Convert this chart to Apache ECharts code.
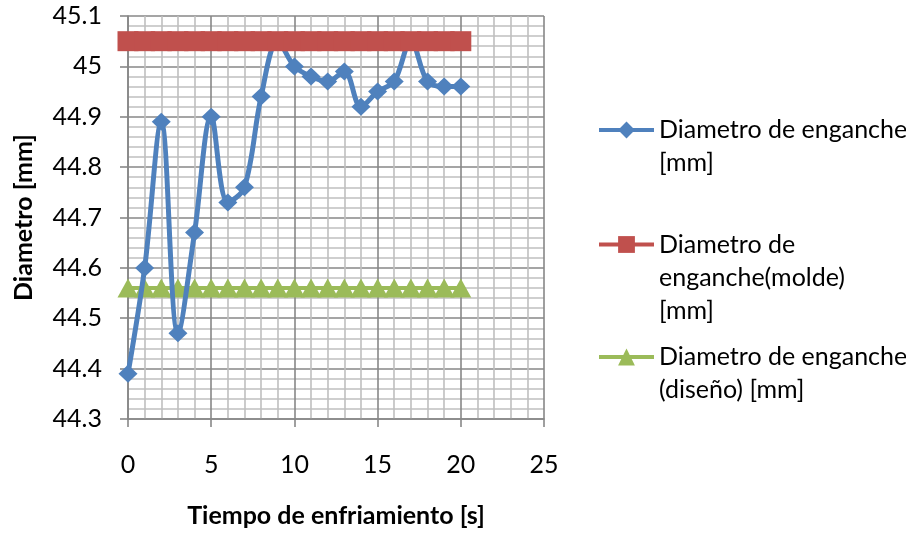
<!DOCTYPE html>
<html>
<head>
<meta charset="utf-8">
<script src="https://cdn.jsdelivr.net/npm/echarts@6/dist/echarts.min.js"></script>
<style>
  html, body { margin: 0; padding: 0; background: #ffffff; }
  #chart { width: 906px; height: 533px; }
</style>
</head>
<body>
<div id="chart"></div>
<script>
// Tiempo de enfriamiento [s]
const tiempo = [0, 1, 2, 3, 4, 5, 6, 7, 8, 9, 10, 11, 12, 13, 14, 15, 16, 17, 18, 19, 20];
// Diametro de enganche medido [mm]
const diametroEnganche = [44.39, 44.60, 44.89, 44.47, 44.67, 44.90, 44.73, 44.76, 44.94, 45.05, 45.00,
                          44.98, 44.97, 44.99, 44.92, 44.95, 44.97, 45.05, 44.97, 44.96, 44.96];
// Diametro de enganche del molde [mm]
const diametroMolde = [45.05, 45.05, 45.05, 45.05, 45.05, 45.05, 45.05, 45.05, 45.05, 45.05, 45.05,
                       45.05, 45.05, 45.05, 45.05, 45.05, 45.05, 45.05, 45.05, 45.05, 45.05];
// Diametro de enganche de diseño [mm]
const diametroDiseno = [44.56, 44.56, 44.56, 44.56, 44.56, 44.56, 44.56, 44.56, 44.56, 44.56, 44.56,
                        44.56, 44.56, 44.56, 44.56, 44.56, 44.56, 44.56, 44.56, 44.56, 44.56];

const serieNombres = ['Diametro de enganche [mm]', 'Diametro de enganche(molde) [mm]', 'Diametro de enganche (diseño) [mm]'];
const leyendaLineas = [
  ['Diametro de enganche', '[mm]'],
  ['Diametro de', 'enganche(molde)', '[mm]'],
  ['Diametro de enganche', '(diseño) [mm]']
];

const FONT = 'Lato';
const FS = 25;
const LH = 33;
const MAJOR = '#878787';
const MINOR = '#bfbfbf';

const pares = ys => tiempo.map((t, i) => [t, ys[i]]);

// The legend text block is centred on its icon; leading blank lines
// keep the icon level with the first line of a wrapped label.
function leyenda(idx, top) {
  const lineas = leyendaLineas[idx];
  const texto = '\n'.repeat(lineas.length - 1) + lineas.join('\n');
  return {
    show: true,
    orient: 'vertical',
    left: 597,
    top: top,
    padding: 0,
    itemWidth: 55,
    itemHeight: 21,
    itemGap: 0,
    selectedMode: false,
    data: [serieNombres[idx]],
    formatter: () => texto,
    lineStyle: { width: 4 },
    textStyle: {
      fontFamily: FONT,
      fontSize: FS,
      lineHeight: LH,
      color: '#000000'
    }
  };
}

const chart = echarts.init(document.getElementById('chart'), null, { renderer: 'canvas' });

chart.setOption({
  animation: false,
  backgroundColor: '#ffffff',
  grid: { left: 128, top: 16, width: 416, height: 404, containLabel: false },
  legend: [
    leyenda(0, 80.5),
    leyenda(1, 162),
    leyenda(2, 307.5)
  ],
  xAxis: {
    type: 'value',
    min: 0,
    max: 25,
    interval: 5,
    name: 'Tiempo de enfriamiento [s]',
    nameLocation: 'middle',
    nameGap: 84,
    nameTextStyle: { fontFamily: FONT, fontSize: FS, fontWeight: 'bold', color: '#000000' },
    axisLine: { show: true, lineStyle: { color: MAJOR, width: 1.6 } },
    axisTick: { show: true, length: 8, lineStyle: { color: MAJOR, width: 1.6 } },
    axisLabel: { fontFamily: FONT, fontSize: FS, color: '#000000', margin: 33 },
    splitLine: { show: true, lineStyle: { color: MAJOR, width: 1.6 } },
    minorTick: { show: false, splitNumber: 5 },
    minorSplitLine: { show: true, lineStyle: { color: MINOR, width: 1.6 } }
  },
  yAxis: {
    type: 'value',
    min: 44.3,
    max: 45.1,
    interval: 0.1,
    name: 'Diametro [mm]',
    nameLocation: 'middle',
    nameGap: 92,
    nameTextStyle: { fontFamily: FONT, fontSize: FS, fontWeight: 'bold', color: '#000000' },
    axisLine: { show: true, lineStyle: { color: MAJOR, width: 1.6 } },
    axisTick: { show: true, length: 8, lineStyle: { color: MAJOR, width: 1.6 } },
    axisLabel: { fontFamily: FONT, fontSize: FS, color: '#000000', margin: 26 },
    splitLine: { show: true, lineStyle: { color: MAJOR, width: 1.6 } },
    minorTick: { show: false, splitNumber: 5 },
    minorSplitLine: { show: true, lineStyle: { color: MINOR, width: 1.6 } }
  },
  series: [
    {
      name: serieNombres[0],
      type: 'line',
      z: 3,
      data: pares(diametroEnganche),
      smooth: 0.35,
      symbol: 'diamond',
      symbolSize: [19, 18],
      showAllSymbol: true,
      color: '#4f81bd',
      lineStyle: { color: '#4f81bd', width: 5 },
      itemStyle: { color: '#4f81bd', borderWidth: 0 },
      emphasis: { disabled: true }
    },
    {
      name: serieNombres[1],
      type: 'line',
      z: 4,
      data: pares(diametroMolde),
      symbol: 'rect',
      symbolSize: [21, 20],
      showAllSymbol: true,
      color: '#c0504d',
      lineStyle: { color: '#c0504d', width: 4 },
      itemStyle: { color: '#c0504d', borderWidth: 0 },
      emphasis: { disabled: true }
    },
    {
      name: serieNombres[2],
      type: 'line',
      z: 2,
      data: pares(diametroDiseno),
      symbol: 'triangle',
      symbolSize: [21, 19],
      showAllSymbol: true,
      color: '#9bbb59',
      lineStyle: { color: '#9bbb59', width: 4 },
      itemStyle: { color: '#9bbb59', borderWidth: 0 },
      emphasis: { disabled: true }
    }
  ]
});
</script>
</body>
</html>
